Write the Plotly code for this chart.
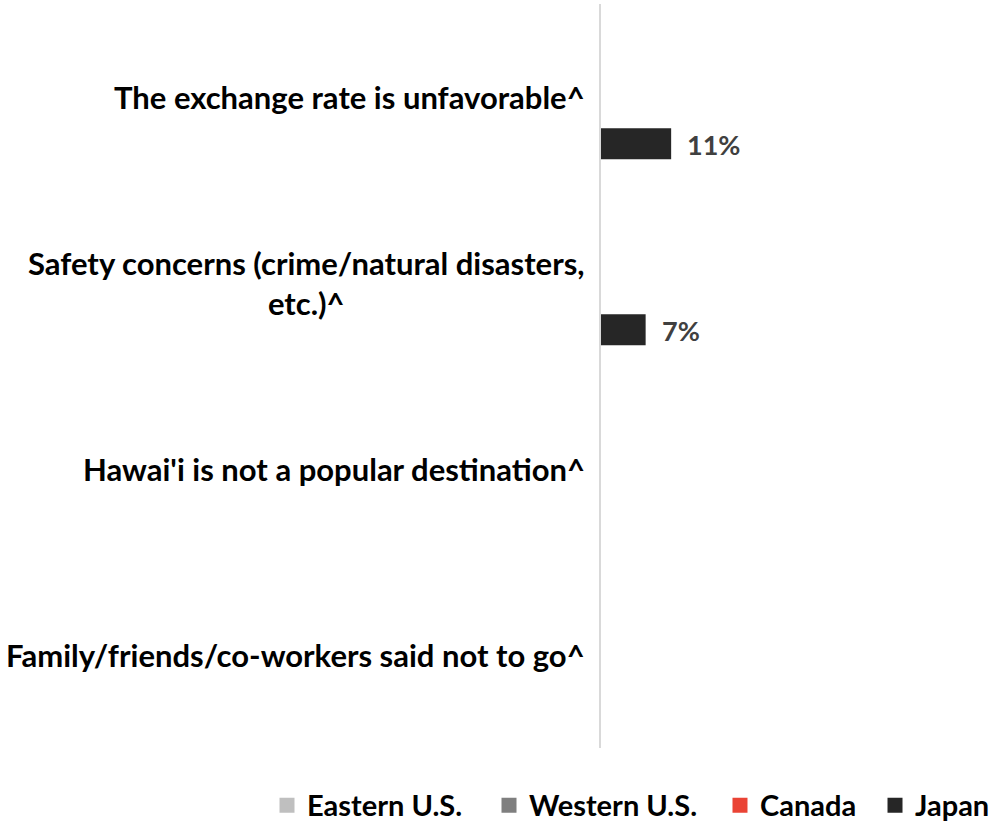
import plotly.graph_objects as go

# Reasons for not visiting, by market (percent of respondents)
categories = [
    "The exchange rate is unfavorable^",
    "Safety concerns (crime/natural disasters,<br>etc.)^",
    "Hawai'i is not a popular destination^",
    "Family/friends/co-workers said not to go^",
]
series_names = ["Eastern U.S.", "Western U.S.", "Canada", "Japan"]
eastern_us = [None, None, None, None]
western_us = [None, None, None, None]
canada = [None, None, None, None]
japan = [11, 7, None, None]

colors = ["#BFBFBF", "#7F7F7F", "#EA4335", "#262626"]
FONT = "Lato"

# left edge of each legend entry, in plot-area fractions
legend_x = [-0.8586, -0.2879, 0.3059, 0.7044]

fig = go.Figure()
for i, (name, vals, col) in enumerate(zip(series_names,
                                          [eastern_us, western_us, canada, japan],
                                          colors)):
    lg = "legend" if i == 0 else f"legend{i + 1}"
    fig.add_trace(go.Bar(
        y=categories,
        x=vals,
        name=name,
        orientation="h",
        marker=dict(color=col, line=dict(width=0)),
        legendgroup=name,
        showlegend=False,
    ))
    # square swatch for the legend entry
    fig.add_trace(go.Scatter(
        x=[None], y=[None], mode="markers", name=name,
        marker=dict(symbol="square", size=15, color=col),
        legendgroup=name, legend=lg, showlegend=True,
    ))
    # value labels just past the end of each bar, level with the bar
    for cat, v in zip(categories, vals):
        if v is None:
            continue
        fig.add_annotation(
            x=v, xref="x", y=cat, yref="y",
            text=f"{v}%", showarrow=False,
            xanchor="left", yanchor="middle", xshift=14, yshift=-47,
            font=dict(family=FONT, size=27, color="#404040", weight="bold"),
        )

# Category labels drawn as centered text blocks to the left of the axis
for cat in categories:
    fig.add_annotation(
        x=0, xref="paper", y=cat, yref="y",
        text=cat, showarrow=False,
        xanchor="right", yanchor="middle", align="center",
        xshift=-14,
        font=dict(family=FONT, size=31, color="#000000", weight="bold"),
    )

legend_style = dict(
    orientation="h", xanchor="left", y=-0.077, yanchor="middle",
    font=dict(family=FONT, size=29, color="#000000", weight="bold"),
    itemwidth=30, bgcolor="rgba(0,0,0,0)",
)
legends = {}
for i, lx in enumerate(legend_x):
    key = "legend" if i == 0 else f"legend{i + 1}"
    legends[key] = dict(legend_style, x=lx)

fig.update_layout(
    width=997, height=822,
    margin=dict(l=601, r=7, t=4, b=74, autoexpand=False),
    plot_bgcolor="white", paper_bgcolor="white",
    barmode="group", bargap=0.33, bargroupgap=0,
    showlegend=True,
    xaxis=dict(range=[0, 61], showgrid=False, showticklabels=False, zeroline=False,
               showline=False, ticks=""),
    yaxis=dict(autorange="reversed", showticklabels=False, showgrid=False,
               showline=True, linecolor="#D9D9D9", linewidth=2, ticks="",
               zeroline=False),
    **legends,
)

fig.write_html("out.html")
